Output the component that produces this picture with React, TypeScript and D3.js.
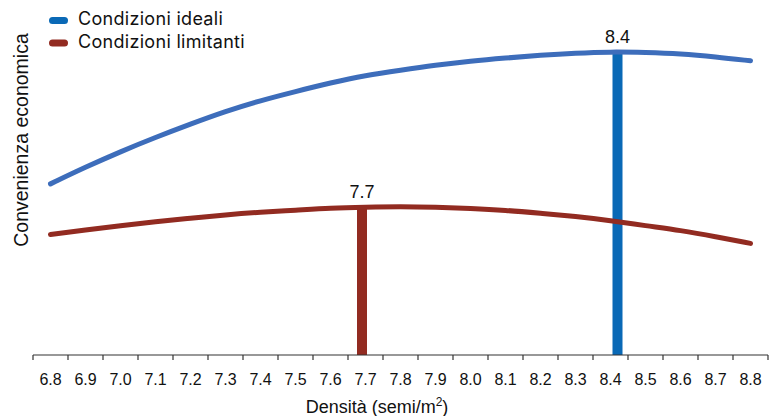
import React from "react";
import * as d3 from "d3";

const categories = ["6.8","6.9","7.0","7.1","7.2","7.3","7.4","7.5","7.6","7.7","7.8","7.9","8.0","8.1","8.2","8.3","8.4","8.5","8.6","8.7","8.8"];
const idealValues = [55.2,60.6,65.6,70.2,74.5,78.6,82.1,85.0,87.8,90.2,91.9,93.5,94.8,95.8,96.7,97.4,97.8,97.6,97.2,96.2,94.9];
const limitingValues = [38.9,40.3,41.7,43.0,44.1,45.2,46.1,46.7,47.4,47.7,47.9,47.7,47.3,46.7,45.7,44.7,43.4,41.7,40.2,38.2,36.0];
const optimumIdeal = { x: 8.42, y: 97.8, label: "8.4" };
const optimumLimiting = { x: 7.69, y: 47.7, label: "7.7" };
const seriesNames = ["Condizioni ideali", "Condizioni limitanti"];

const W = 778, H = 416;
const axisY = 355;
const BLUE_LINE = "#3d6dbb";
const BLUE_BAR = "#0a69b6";
const RED = "#922b21";

export default function App() {
  const nums = categories.map((c) => parseFloat(c));
  const x = d3.scaleLinear().domain([6.75, 8.85]).range([33, 768]);
  const y = d3.scaleLinear().domain([0, 100]).range([axisY, 45]);
  const line = d3
    .line<number>()
    .x((_, i) => x(nums[i]))
    .y((d) => y(d))
    .curve(d3.curveBasis);
  const tickPos = d3.range(categories.length + 1).map((k) => x(6.75 + 0.1 * k));
  const font = "'Liberation Sans', Arial, sans-serif";
  const font2 = "Inter, 'Open Sans', sans-serif";
  const bars = [
    { o: optimumLimiting, color: RED },
    { o: optimumIdeal, color: BLUE_BAR },
  ];
  return (
    <svg width={W} height={H} style={{ position: "absolute", left: 0, top: 0, background: "#fff" }}>
      {bars.map((b, i) => (
        <g key={i}>
          <rect x={x(b.o.x) - 5} y={y(b.o.y)} width={10} height={axisY - y(b.o.y)} fill={b.color} />
          <text x={x(b.o.x)} y={y(b.o.y) - 9} textAnchor="middle" fontFamily={font} fontSize={18} fill="#111">
            {b.o.label}
          </text>
        </g>
      ))}
      <path d={line(limitingValues) || ""} fill="none" stroke={RED} strokeWidth={5} strokeLinecap="round" />
      <path d={line(idealValues) || ""} fill="none" stroke={BLUE_LINE} strokeWidth={5} strokeLinecap="round" />
      <line x1={33} x2={768} y1={axisY} y2={axisY} stroke="#333" strokeWidth={1.2} />
      {tickPos.map((t, i) => (
        <line key={i} x1={t} x2={t} y1={axisY} y2={axisY + 5} stroke="#333" strokeWidth={1.2} />
      ))}
      {categories.map((c, i) => (
        <text key={c} x={x(nums[i])} y={385} textAnchor="middle" fontFamily={font} fontSize={16} fill="#111">
          {c}
        </text>
      ))}
      <text x={377} y={413} textAnchor="middle" fontFamily={font} fontSize={18} fill="#111">
        Densità (semi/m<tspan dy={-7} fontSize={12}>2</tspan><tspan dy={7}>)</tspan>
      </text>
      <text transform={`translate(28,140) rotate(-90)`} textAnchor="middle" fontFamily={font} fontSize={19.5} fill="#111">
        Convenienza economica
      </text>
      {seriesNames.map((n, i) => (
        <g key={n} transform={`translate(0,${i * 22.5})`}>
          <rect x={49} y={17} width={19} height={7} rx={3.5} fill={i === 0 ? BLUE_BAR : RED} />
          <text x={78} y={25} fontFamily={font2} fontSize={18} letterSpacing={0.3} fill="#111">
            {n}
          </text>
        </g>
      ))}
    </svg>
  );
}
